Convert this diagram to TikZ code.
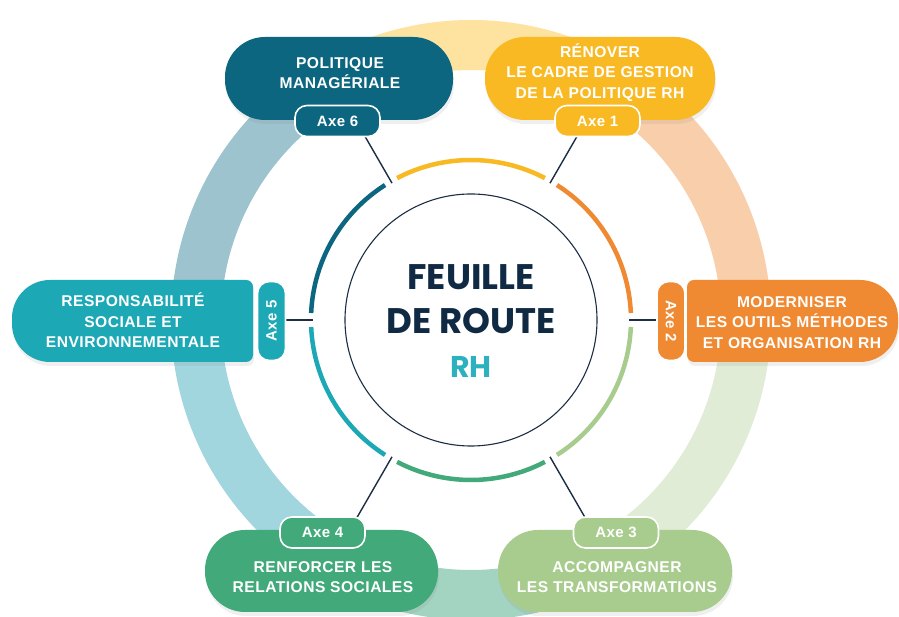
\documentclass[tikz,border=0pt]{standalone}
\usepackage{fontspec}
\setmainfont{Liberation Sans}
\newfontfamily\boxfont[LetterSpace=3]{Liberation Sans}
\newfontfamily\titlefont{Poppins}
\usetikzlibrary{calc,shadows}
\definecolor{navy}{HTML}{1B2E45}
\definecolor{titlec}{HTML}{102A43}
\definecolor{rhc}{HTML}{2DB1C0}
\definecolor{cA}{HTML}{F8B923}
\definecolor{cB}{HTML}{EF8A32}
\definecolor{cC}{HTML}{A8CC8E}
\definecolor{cD}{HTML}{42A97A}
\definecolor{cE}{HTML}{1CA8B5}
\definecolor{cF}{HTML}{0C6680}
\definecolor{rA}{HTML}{FDE2A0}
\definecolor{rB}{HTML}{F9CEAA}
\definecolor{rC}{HTML}{E0ECD5}
\definecolor{rD}{HTML}{A3D4C2}
\definecolor{rE}{HTML}{A1D6DF}
\definecolor{rF}{HTML}{9DC3CF}
\begin{document}
\begin{tikzpicture}[x=1pt,y=1pt,
  bigring/.style={line width=50pt},
  seg/.style={line width=4.5pt},
  spoke/.style={draw=navy, line width=1.4pt},
  boxtext/.style={text=white, font=\boxfont\bfseries\fontsize{15.6}{20.5}\selectfont, align=center, inner sep=0pt},
  pill/.style={rounded corners=40pt, minimum height=83pt, inner sep=0pt, drop shadow={opacity=0.12, shadow xshift=1pt, shadow yshift=-4pt}},
  shadowed/.style={drop shadow={opacity=0.12, shadow xshift=1pt, shadow yshift=-4pt}},
  badge/.style={draw=white, line width=1.6pt, rounded corners=12pt, minimum width=85pt, minimum height=31pt, inner sep=0pt, text=white, font=\boxfont\bfseries\fontsize{15}{16}\selectfont},
  vbadge/.style={badge, minimum width=79pt, minimum height=28pt}
]
\useasboundingbox (0,0) rectangle (899,617);
\fill[white] (0,0) rectangle (899,617);
\coordinate (C) at (471,297);

% big faded ring
\draw[bigring, rA] (C) ++(60:275) arc[start angle=60, end angle=120, radius=275];
\draw[bigring, rF] (C) ++(120:275) arc[start angle=120, end angle=180, radius=275];
\draw[bigring, rE] (C) ++(180:275) arc[start angle=180, end angle=240, radius=275];
\draw[bigring, rD] (C) ++(240:275) arc[start angle=240, end angle=300, radius=275];
\draw[bigring, rC] (C) ++(300:275) arc[start angle=300, end angle=360, radius=275];
\draw[bigring, rB] (C) ++(0:275) arc[start angle=0, end angle=60, radius=275];

% spokes
\foreach \a/\n/\e in {60/1/216, 0/2/190, -60/3/234, -120/4/234, 180/5/190, 120/6/216}{
  \coordinate (r\n) at ($(C)+(\a:158)$);
  \coordinate (e\n) at ($(C)+(\a:\e)$);
  \draw[spoke] (r\n) -- (e\n);
}

% boxes
\node[pill, fill=cF, minimum width=228pt] (b6) at (339,538.5) {};
\node[pill, fill=cA, minimum width=230pt] (b1) at (600,538.5) {};
\node[pill, fill=cD, minimum width=233pt, minimum height=82pt] (b4) at (321.5,46) {};
\node[pill, fill=cC, minimum width=234pt, minimum height=82pt] (b3) at (615,46) {};
\fill[cB, shadowed] (694,255) -- (860,255) arc[start angle=-90, end angle=0, radius=38]
  -- (898,299) arc[start angle=0, end angle=90, radius=38] -- (694,337)
  arc[start angle=90, end angle=180, radius=7] -- (687,262)
  arc[start angle=180, end angle=270, radius=7] -- cycle;
\fill[cE, shadowed] (246,255) -- (50,255) arc[start angle=270, end angle=180, radius=38]
  -- (12,299) arc[start angle=180, end angle=90, radius=38] -- (246,337)
  arc[start angle=90, end angle=0, radius=7] -- (253,262)
  arc[start angle=0, end angle=-90, radius=7] -- cycle;

% box texts
\node[boxtext] (t6) at (340,544) {POLITIQUE\\MANAGÉRIALE};
\node[boxtext] (t1) at (600,544.5) {RÉNOVER\\LE CADRE DE GESTION\\DE LA POLITIQUE RH};
\node[boxtext] (t2) at (792,294.5) {MODERNISER\\LES OUTILS MÉTHODES\\ET ORGANISATION RH};
\node[boxtext] (t5) at (133,296.5) {RESPONSABILITÉ\\SOCIALE ET\\ENVIRONNEMENTALE};
\node[boxtext] (t4) at (323,40) {RENFORCER LES\\RELATIONS SOCIALES};
\node[boxtext] (t3) at (617,40) {ACCOMPAGNER\\LES TRANSFORMATIONS};

% badges
\node[badge, fill=cF] (a6) at (337.5,496) {Axe 6};
\node[badge, fill=cA] (a1) at (597.5,496) {Axe 1};
\node[badge, fill=cD] (a4) at (322.5,84.5) {Axe 4};
\node[badge, fill=cC] (a3) at (616,84.5) {Axe 3};
\node[vbadge, fill=cB, rotate=-90] (a2) at (671,296) {Axe 2};
\node[vbadge, fill=cE, rotate=90] (a5) at (271.5,296) {Axe 5};

% inner segmented ring
\draw[seg, cA] (C) ++(62.5:160) arc[start angle=62.5, end angle=117.5, radius=160];
\draw[seg, cF] (C) ++(122.5:160) arc[start angle=122.5, end angle=177.5, radius=160];
\draw[seg, cE] (C) ++(182.5:160) arc[start angle=182.5, end angle=237.5, radius=160];
\draw[seg, cD] (C) ++(242.5:160) arc[start angle=242.5, end angle=297.5, radius=160];
\draw[seg, cC] (C) ++(302.5:160) arc[start angle=302.5, end angle=357.5, radius=160];
\draw[seg, cB] (C) ++(2.5:160) arc[start angle=2.5, end angle=57.5, radius=160];

% inner circle
\node[circle, draw=navy, line width=1.1pt, minimum size=252pt, inner sep=0pt] (inner) at (C) {};
\node[font=\titlefont\bfseries\fontsize{35.5}{44}\selectfont, text=titlec, align=center] (title) at (471,296)
  {FEUILLE\\DE ROUTE\\{\fontsize{30}{44}\selectfont\color{rhc}RH}};
\end{tikzpicture}
\end{document}
